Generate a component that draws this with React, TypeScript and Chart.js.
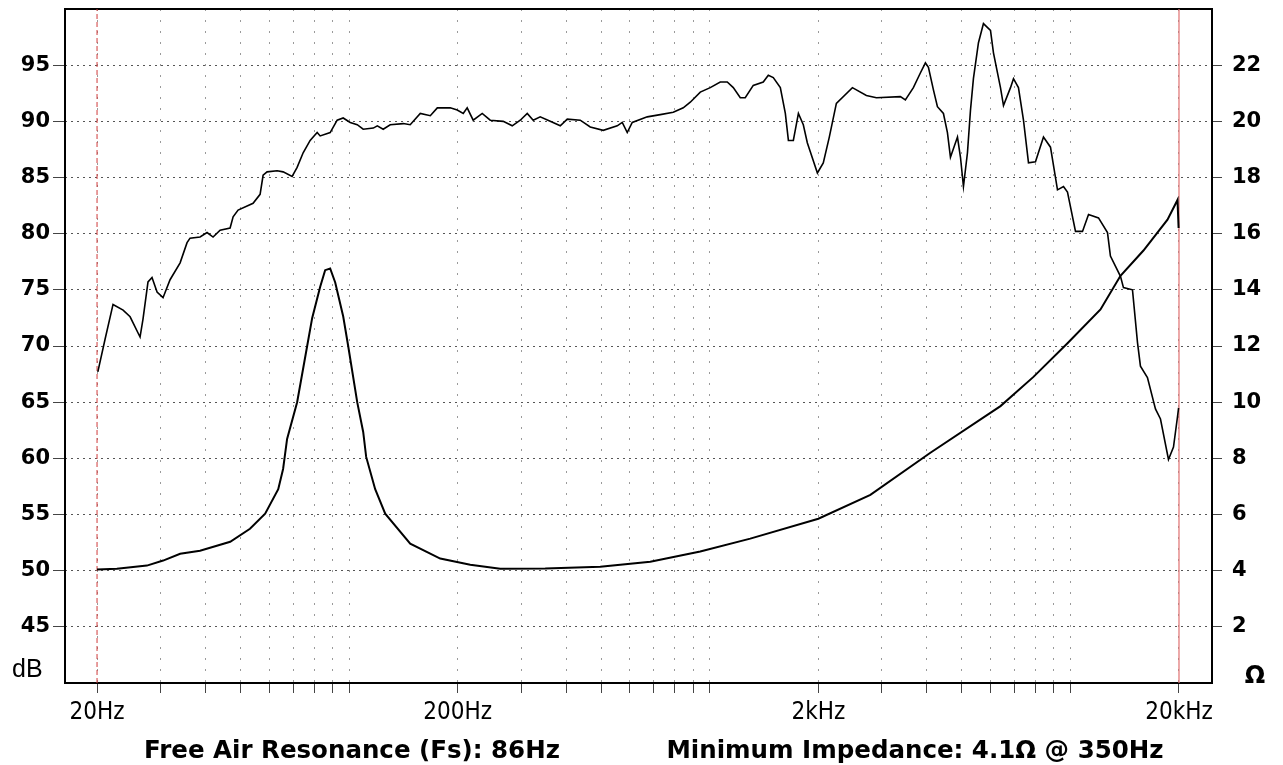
import React, { useEffect, useRef } from 'react';
import { Chart, registerables } from 'chart.js';

Chart.register(...registerables);

// SPL response (left axis, dB)
const splFreq = [20.1, 21.05, 22.15, 23.62, 24.7, 26.32, 26.82, 27.69, 28.41, 29.34,
  30.48, 31.88, 33.99, 35.53, 36.22, 38.61, 40.37, 41.95, 43.88, 46.77,
  47.68, 49.22, 54.16, 56.64, 57.74, 59.23, 63.14, 65.62, 69.49, 71.75,
  74.56, 77.97, 81.54, 83.12, 88.6, 92.65, 96.27, 100.7, 105.3, 109.4,
  116.7, 119.7, 124.3, 130, 141.3, 147.7, 157.5, 167.9, 175.6, 190.7,
  199.4, 207.2, 212.5, 220.8, 233.9, 246.2, 267.5, 283.3, 298.2, 311.8,
  323.9, 338.7, 361.1, 385, 402.6, 437.4, 466.2, 506.5, 553.9, 571.9,
  590.4, 609.6, 670.9, 729.1, 792, 844.3, 882.9, 941.2, 1003, 1069,
  1118, 1162, 1215, 1254, 1320, 1407, 1453, 1500, 1569, 1620,
  1652, 1705, 1761, 1817, 1864, 1900, 1988, 2064, 2145, 2244,
  2486, 2718, 2898, 3377, 3486, 3669, 3836, 3962, 4039, 4170,
  4278, 4445, 4560, 4649, 4862, 4956, 5051, 5182, 5283, 5383,
  5559, 5739, 6003, 6118, 6398, 6522, 6821, 6952, 7176, 7410,
  7651, 8000, 8420, 8805, 9207, 9567, 9814, 10329, 10801, 11225,
  11963, 12670, 12910, 13765, 14030, 14862, 15346, 15637, 16351, 17209,
  17770, 18702, 19310, 19810, 19950];
const splDb = [67.7, 70.6, 73.7, 73.2, 72.6, 70.8, 72.4, 75.7, 76.1, 74.8,
  74.3, 75.9, 77.4, 79.2, 79.6, 79.7, 80.1, 79.7, 80.3, 80.5,
  81.5, 82.1, 82.7, 83.5, 85.2, 85.5, 85.6, 85.5, 85.1, 85.9,
  87.2, 88.3, 89.0, 88.7, 89.0, 90.1, 90.3, 89.9, 89.7, 89.3,
  89.4, 89.6, 89.3, 89.7, 89.8, 89.7, 90.7, 90.5, 91.2, 91.2,
  91.0, 90.7, 91.2, 90.1, 90.7, 90.1, 90.0, 89.6, 90.1, 90.7,
  90.1, 90.4, 90.0, 89.6, 90.2, 90.1, 89.5, 89.2, 89.6, 89.9,
  89.0, 89.9, 90.4, 90.6, 90.8, 91.2, 91.7, 92.6, 93.0, 93.5,
  93.5, 93.0, 92.1, 92.1, 93.2, 93.5, 94.1, 93.9, 93.0, 90.7,
  88.3, 88.3, 90.7, 89.7, 88.1, 87.3, 85.4, 86.3, 88.6, 91.6,
  93.0, 92.3, 92.1, 92.2, 91.9, 93.0, 94.3, 95.2, 94.8, 92.8,
  91.3, 90.7, 89.0, 86.8, 88.6, 86.8, 84.2, 87.2, 91.0, 93.8,
  97.0, 98.7, 98.1, 96.1, 93.0, 91.4, 93.0, 93.8, 93.0, 90.1,
  86.3, 86.4, 88.6, 87.7, 83.9, 84.2, 83.7, 80.2, 80.2, 81.7,
  81.4, 80.1, 78.0, 76.2, 75.2, 75.0, 70.3, 68.2, 67.2, 64.4,
  63.5, 59.9, 61.0, 63.7, 64.5];

// Impedance (right axis, ohms)
const impFreq = [20, 22.7, 27.5, 30.5, 34.0, 38.6, 46.8, 53.1, 58.5, 63.6,
  65.6, 67.3, 71.75, 76.5, 79.0, 83.1, 85.8, 88.6, 91.5, 96.3,
  99.4, 105.3, 109.4, 111.5, 118.1, 125.9, 147.7, 178.9, 216.7, 262.4,
  349.7, 497, 684, 941, 1295, 2000, 2788, 4090, 6398, 7898,
  9814, 12117, 13765, 15940, 18584, 19810, 19950];
const impOhm = [4.04, 4.07, 4.18, 4.36, 4.6, 4.71, 5.03, 5.49, 6.03, 6.9,
  7.62, 8.69, 10.0, 12.0, 13.0, 14.1, 14.7, 14.76, 14.26, 13.05,
  12.0, 10.0, 8.94, 8.05, 6.9, 6.03, 4.96, 4.43, 4.21, 4.07,
  4.08, 4.14, 4.32, 4.68, 5.14, 5.85, 6.7, 8.2, 9.86, 10.9,
  12.1, 13.3, 14.5, 15.4, 16.5, 17.2, 16.2];

// Frequency range markers (20 Hz dashed, 20 kHz solid)
const markerFreq = [20, 20000];

// X-axis grid / tick values and labels
const xGridTicks = [20, 30, 40, 50, 60, 70, 80, 90, 100, 200, 300, 400, 500, 600, 700, 800, 900,
  1000, 2000, 3000, 4000, 5000, 6000, 7000, 8000, 9000, 10000, 20000];
const xTickLabels: Record<number, string> = { 20: '20Hz', 200: '200Hz', 2000: '2kHz', 20000: '20kHz' };
const dbRange = [40, 100];
const ohmRange = [0, 24];
const leftUnit = 'dB';
const rightUnit = 'Ω';
const fsText = 'Free Air Resonance (Fs): 86Hz';
const zminText = 'Minimum Impedance: 4.1Ω @ 350Hz';

const zeroPad = (s: any) => {
  s.paddingTop = 0;
  s.paddingBottom = 0;
  s.paddingLeft = 0;
  s.paddingRight = 0;
};

const framePlugin = {
  id: 'frame',
  beforeDatasetsDraw(chart: any) {
    const { ctx, chartArea: a } = chart;
    ctx.save();
    ctx.strokeStyle = '#000';
    ctx.lineWidth = 2;
    ctx.strokeRect(a.left, a.top, a.right - a.left, a.bottom - a.top);
    ctx.restore();
  },
  afterDraw(chart: any) {
    const { ctx } = chart;
    ctx.save();
    ctx.fillStyle = '#000';
    ctx.textBaseline = 'alphabetic';
    ctx.font = '25px "Liberation Sans", Arial, sans-serif';
    ctx.textAlign = 'left';
    ctx.fillText(leftUnit, 12, 677);
    ctx.font = 'bold 24px "DejaVu Sans", sans-serif';
    ctx.textAlign = 'center';
    ctx.fillText(rightUnit, 1255, 683);
    ctx.font = 'bold 24.5px "DejaVu Sans", sans-serif';
    ctx.textAlign = 'center';
    ctx.fillText(fsText, 352, 758);
    ctx.fillText(zminText, 915, 758);
    ctx.restore();
  },
};

export default function App() {
  const ref = useRef<HTMLCanvasElement | null>(null);

  useEffect(() => {
    if (!ref.current) return;
    const chart = new Chart(ref.current, {
      type: 'line',
      data: {
        datasets: [
          {
            label: 'SPL',
            data: splFreq.map((f, i) => ({ x: f, y: splDb[i] })),
            borderColor: '#000',
            borderWidth: 1.6,
            pointRadius: 0,
            yAxisID: 'y',
          },
          {
            label: 'Impedance',
            data: impFreq.map((f, i) => ({ x: f, y: impOhm[i] })),
            borderColor: '#000',
            borderWidth: 2,
            pointRadius: 0,
            yAxisID: 'y1',
          },
          {
            label: '20Hz',
            data: [{ x: markerFreq[0], y: dbRange[0] }, { x: markerFreq[0], y: dbRange[1] }],
            borderColor: '#d03a3a',
            borderWidth: 1,
            borderDash: [5, 3],
            pointRadius: 0,
            yAxisID: 'y',
          },
          {
            label: '20kHz',
            data: [{ x: markerFreq[1], y: dbRange[0] }, { x: markerFreq[1], y: dbRange[1] }],
            borderColor: '#e07070',
            borderWidth: 1.2,
            pointRadius: 0,
            yAxisID: 'y',
          },
        ],
      },
      options: {
        animation: false,
        responsive: false,
        layout: { padding: { top: 9, left: 0, right: 0, bottom: 0 } },
        plugins: { legend: { display: false }, tooltip: { enabled: false }, title: { display: false } },
        scales: {
          x: {
            type: 'logarithmic',
            min: 16.3,
            max: 24692,
            afterBuildTicks: (s: any) => { s.ticks = xGridTicks.map((v) => ({ value: v })); },
            afterFit: (s: any) => { s.height = 82; zeroPad(s); },
            ticks: {
              autoSkip: false,
              maxRotation: 0,
              minRotation: 0,
              color: '#000',
              padding: 5,
              font: { family: "'DejaVu Sans Condensed', 'Liberation Sans Narrow', 'Liberation Sans', sans-serif", size: 24 },
              callback: (v: any) => xTickLabels[Number(v)] ?? '',
            },
            grid: { color: '#9a9a9a', lineWidth: 1, tickLength: 10, tickColor: '#444', tickWidth: 1 },
            border: { display: false, dash: [2, 9] },
          },
          y: {
            position: 'left',
            min: dbRange[0],
            max: dbRange[1],
            afterFit: (s: any) => { s.width = 65; zeroPad(s); },
            ticks: {
              stepSize: 5,
              color: '#000',
              padding: 3,
              font: { family: "'DejaVu Sans', sans-serif", size: 21, weight: 'bold' },
              callback: (v: any) => (v === dbRange[0] || v === dbRange[1] ? null : String(v)),
            },
            grid: { color: '#555', lineWidth: 1, tickLength: 12, tickColor: '#444', tickWidth: 1 },
            border: { display: false, dash: [2, 4] },
          },
          y1: {
            position: 'right',
            min: ohmRange[0],
            max: ohmRange[1],
            afterFit: (s: any) => { s.width = 71; zeroPad(s); },
            ticks: {
              stepSize: 2,
              color: '#000',
              padding: 10,
              font: { family: "'DejaVu Sans', sans-serif", size: 21, weight: 'bold' },
              callback: (v: any) => (v === ohmRange[0] || v === ohmRange[1] ? null : String(v)),
            },
            grid: { drawOnChartArea: false, tickLength: 10, tickColor: '#444', tickWidth: 1 },
            border: { display: false },
          },
        },
      },
      plugins: [framePlugin],
    } as any);
    return () => chart.destroy();
  }, []);

  return (
    <div style={{ position: 'absolute', left: 0, top: 0, width: 1283, height: 765, background: '#fff' }}>
      <canvas ref={ref} width={1283} height={765} style={{ display: 'block' }} />
    </div>
  );
}
